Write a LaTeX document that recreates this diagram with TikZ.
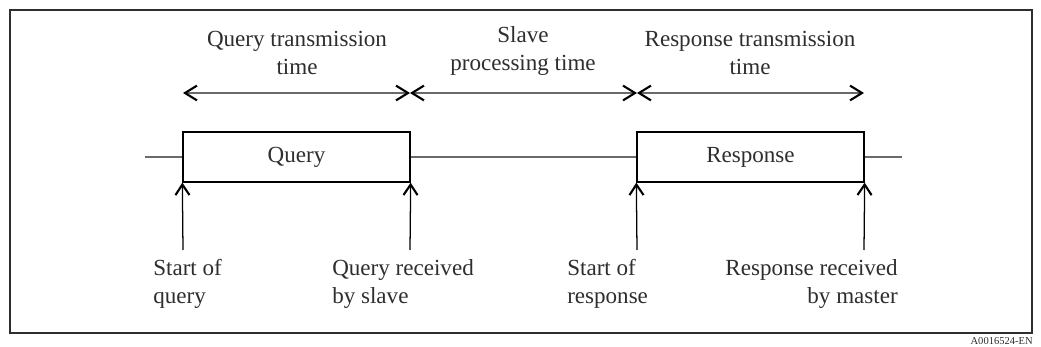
\documentclass[tikz,border=0pt]{standalone}
\usepackage{fontspec}
\setmainfont{Liberation Serif}
\usetikzlibrary{positioning, arrows.meta}
\definecolor{wireGray}{HTML}{6A6A6A}
\definecolor{inkGray}{HTML}{2E2E2E}

\begin{document}
\begin{tikzpicture}[x=0.025cm, y=-0.025cm,
  every node/.style={font=\fontsize{16.4}{20}\selectfont, text=inkGray},
  msg/.style={draw=black, line width=0.9pt, fill=white, minimum width=5.675cm,
              minimum height=1.25cm, inner sep=0pt},
  wire/.style={draw=wireGray, line width=1pt},
  span/.style={wire, {Straight Barb[length=8.5pt, width=10.5pt, line width=1.5pt, color=black]}-{Straight Barb[length=8.5pt, width=10.5pt, line width=1.5pt, color=black]}},
  pointer/.style={draw=black, line width=0.9pt, -{Straight Barb[length=7.5pt, width=10pt, line width=1.5pt]}},
  tag/.style={align=left, inner sep=0pt, anchor=north west},
]
  \useasboundingbox (0,0) rectangle (1041,347);
  \draw[line width=1pt, draw=inkGray] (10,10) rectangle (1032,333);
  \node[font=\fontsize{7.5}{8}\selectfont, inner sep=0pt, anchor=north east] (figid) at (1033,337) {A0016524-EN};

  % time line with the two frames
  \coordinate (lineL) at (145,157);
  \coordinate (lineR) at (902,157);
  \node[msg] (query) at (296.5,157) {Query};
  \node[msg] (response) at (750.5,157) {Response};
  \draw[wire] (lineL) -- (query.west);
  \draw[wire] (query.east) -- (response.west);
  \draw[wire] (response.east) -- (lineR);

  % durations
  \coordinate (t0) at (183,93);
  \coordinate (t1) at (410,93);
  \coordinate (t2) at (637,93);
  \coordinate (t3) at (864,93);
  \draw[span] (t0) -- (t1);
  \draw[span] (t1) -- (t2);
  \draw[span] (t2) -- (t3);
  \node[align=center, inner sep=0pt, anchor=north] (qtime) at (297,31) {Query transmission\\time};
  \node[align=center, inner sep=0pt, anchor=north] (stime) at (523,26) {Slave\\processing time};
  \node[align=center, inner sep=0pt, anchor=north] (rtime) at (750,31) {Response transmission\\time};

  % events
  \coordinate (e0) at (183,250);
  \coordinate (e1) at (410,250);
  \coordinate (e2) at (637,250);
  \coordinate (e3) at (864,250);
  \draw[pointer] (e0) -- (query.south west);
  \draw[pointer] (e1) -- (query.south east);
  \draw[pointer] (e2) -- (response.south west);
  \draw[pointer] (e3) -- (response.south east);
  \node[tag] (qstart) at (153,259) {Start of\\query};
  \node[tag] (qrecv) at (332,259) {Query received\\by slave};
  \node[tag] (rstart) at (567,259) {Start of\\response};
  \node[tag, align=right, anchor=north east] (rrecv) at (898,259) {Response received\\by master};
\end{tikzpicture}
\end{document}
